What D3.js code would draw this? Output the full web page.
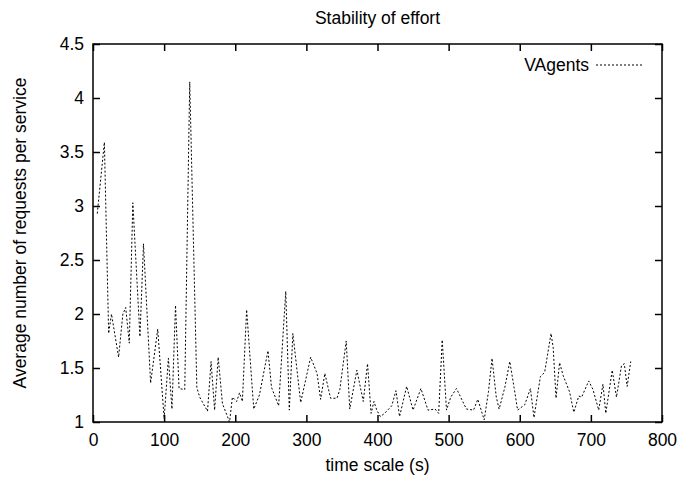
<!DOCTYPE html>
<html>
<head>
<meta charset="utf-8">
<script src="https://cdn.jsdelivr.net/npm/d3@7"></script>
<style>
  body { margin: 0; background: #fff; }
  svg { display: block; font-family: "Liberation Sans", Arial, sans-serif; }
</style>
</head>
<body>
<div id="chart"></div>
<script>
// time (s) and average requests per service
const times = [6, 16, 22, 26, 36, 42, 46, 51, 56, 66, 71, 81, 91, 100, 106, 111, 116, 121, 129, 136,
  146, 150, 161, 166, 171, 176, 182, 192, 196, 202, 206, 210, 216, 226, 234, 246, 251, 261, 271, 276,
  281, 292, 306, 315, 320, 326, 334, 343, 347, 356, 361, 371, 380, 386, 391, 395, 399, 404, 410, 420,
  426, 431, 441, 450, 461, 471, 481, 486, 491, 497, 503, 511, 525, 535, 541, 550, 556, 561, 567, 571,
  579, 586, 592, 597, 607, 615, 620, 629, 635, 644, 647, 651, 656, 661, 670, 676, 683, 687, 697, 703,
  711, 717, 721, 730, 736, 743, 747, 751, 756];
const requests = [2.93, 3.59, 1.82, 2.00, 1.60, 2.00, 2.06, 1.73, 3.03, 1.79, 2.65, 1.36, 1.86, 1.03, 1.59, 1.12, 2.08, 1.31, 1.30, 4.15,
  1.32, 1.23, 1.10, 1.56, 1.11, 1.60, 1.17, 1.00, 1.23, 1.19, 1.27, 1.19, 2.04, 1.12, 1.25, 1.66, 1.32, 1.15, 2.21, 1.11,
  1.82, 1.18, 1.60, 1.45, 1.21, 1.45, 1.22, 1.22, 1.30, 1.75, 1.12, 1.48, 1.19, 1.54, 1.08, 1.19, 1.11, 1.05, 1.08, 1.15,
  1.29, 1.05, 1.33, 1.11, 1.31, 1.11, 1.12, 1.08, 1.76, 1.11, 1.23, 1.31, 1.12, 1.11, 1.21, 1.02, 1.28, 1.59, 1.23, 1.12,
  1.32, 1.56, 1.32, 1.11, 1.16, 1.31, 1.04, 1.42, 1.46, 1.82, 1.69, 1.22, 1.55, 1.43, 1.28, 1.09, 1.24, 1.23, 1.38, 1.30,
  1.11, 1.35, 1.08, 1.48, 1.23, 1.52, 1.54, 1.33, 1.56];
const xTicks = [0, 100, 200, 300, 400, 500, 600, 700, 800];
const yTicks = [1, 1.5, 2, 2.5, 3, 3.5, 4, 4.5];

const width = 682, height = 477;
const margin = { top: 44, right: 20, bottom: 55, left: 93 };
const innerW = 662 - margin.left;
const innerH = 422 - margin.top;
const fontSize = 17.5;

const svg = d3.select("#chart").append("svg")
    .attr("width", width)
    .attr("height", height);

const x = d3.scaleLinear().domain([0, 800]).range([margin.left, margin.left + innerW]);
const y = d3.scaleLinear().domain([1, 4.5]).range([margin.top + innerH, margin.top]);

const tickLen = 7;

// bottom and top axes (ticks point inward, mirrored on top/right)
svg.append("g")
    .attr("transform", `translate(0,${y(1)})`)
    .call(d3.axisBottom(x).tickValues(xTicks).tickFormat(d3.format("d")).tickSizeInner(-tickLen).tickSizeOuter(0).tickPadding(12))
    .call(g => g.select(".domain").remove())
    .call(g => g.selectAll("text").attr("font-size", fontSize).attr("fill", "#000"));

svg.append("g")
    .attr("transform", `translate(0,${y(4.5)})`)
    .call(d3.axisTop(x).tickValues(xTicks).tickFormat("").tickSizeInner(-tickLen).tickSizeOuter(0))
    .call(g => g.select(".domain").remove());

svg.append("g")
    .attr("transform", `translate(${x(0)},0)`)
    .call(d3.axisLeft(y).tickValues(yTicks).tickFormat(d3.format("")).tickSizeInner(-tickLen).tickSizeOuter(0).tickPadding(9))
    .call(g => g.select(".domain").remove())
    .call(g => g.selectAll("text").attr("font-size", fontSize).attr("fill", "#000"));

svg.append("g")
    .attr("transform", `translate(${x(800)},0)`)
    .call(d3.axisRight(y).tickValues(yTicks).tickFormat("").tickSizeInner(-tickLen).tickSizeOuter(0))
    .call(g => g.select(".domain").remove());

svg.selectAll(".tick line").attr("stroke", "#000").attr("stroke-width", 1.5);

// frame
svg.append("rect")
    .attr("x", x(0))
    .attr("y", y(4.5))
    .attr("width", x(800) - x(0))
    .attr("height", y(1) - y(4.5))
    .attr("fill", "none")
    .attr("stroke", "#000")
    .attr("stroke-width", 1.5);

// data line
const points = times.map((t, i) => [t, requests[i]]);
const line = d3.line().x(d => x(d[0])).y(d => y(d[1]));

svg.append("path")
    .datum(points)
    .attr("d", line)
    .attr("fill", "none")
    .attr("stroke", "#000")
    .attr("stroke-width", 1)
    .attr("stroke-dasharray", "2,2");

// legend
svg.append("text")
    .attr("x", 589)
    .attr("y", 71)
    .attr("text-anchor", "end")
    .attr("font-size", fontSize)
    .text("VAgents");

svg.append("line")
    .attr("x1", 596).attr("x2", 642)
    .attr("y1", 65).attr("y2", 65)
    .attr("stroke", "#000")
    .attr("stroke-width", 1)
    .attr("stroke-dasharray", "2,2");

// title and axis labels
svg.append("text")
    .attr("x", (x(0) + x(800)) / 2)
    .attr("y", 24)
    .attr("text-anchor", "middle")
    .attr("font-size", fontSize)
    .text("Stability of effort");

svg.append("text")
    .attr("x", (x(0) + x(800)) / 2)
    .attr("y", 471)
    .attr("text-anchor", "middle")
    .attr("font-size", fontSize)
    .text("time scale (s)");

svg.append("text")
    .attr("transform", `translate(26,${(y(1) + y(4.5)) / 2}) rotate(-90)`)
    .attr("text-anchor", "middle")
    .attr("font-size", fontSize)
    .text("Average number of requests per service");
</script>
</body>
</html>
